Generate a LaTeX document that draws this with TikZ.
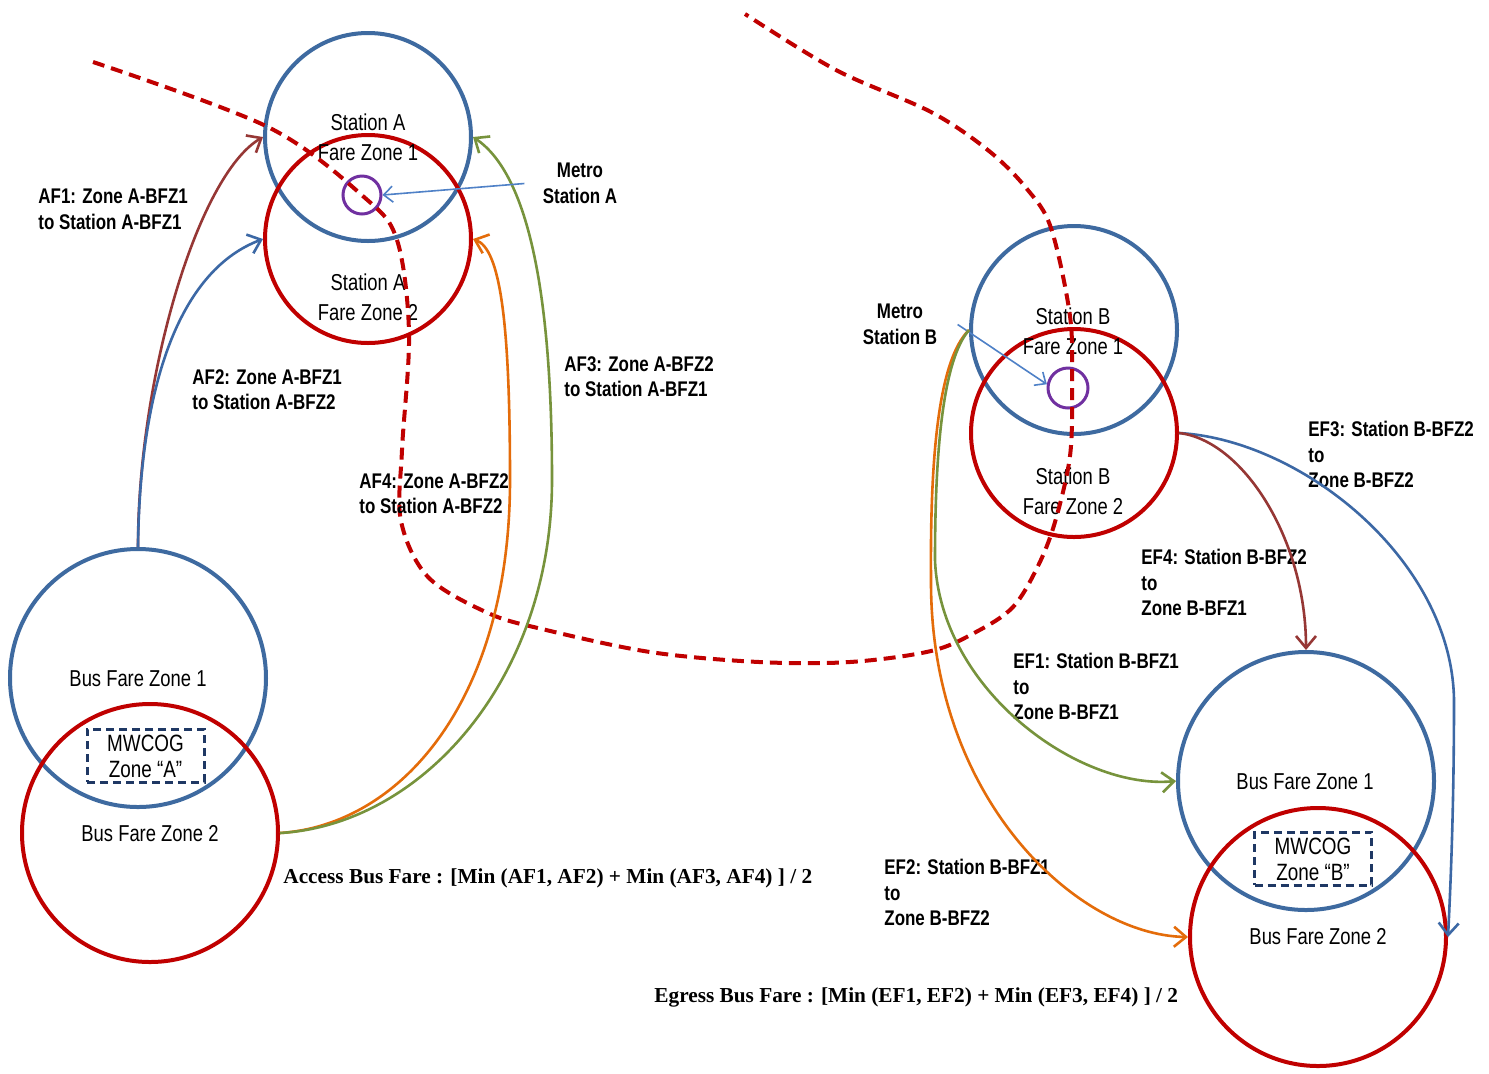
\documentclass[tikz,border=0pt]{standalone}
\usepackage{fontspec}
\setmainfont{Liberation Serif}
\newfontfamily\nar[FakeStretch=0.8]{Liberation Sans}
\usetikzlibrary{shapes.geometric,arrows.meta}
\definecolor{zblue}{RGB}{62,106,160}
\definecolor{zred}{RGB}{192,0,0}
\definecolor{zpurple}{RGB}{112,48,160}
\definecolor{zbrown}{RGB}{150,55,53}
\definecolor{zgreen}{RGB}{119,147,60}
\definecolor{zorange}{RGB}{228,108,10}
\definecolor{aublue}{RGB}{60,104,165}
\definecolor{ltblue}{RGB}{79,129,199}
\definecolor{navy}{RGB}{31,56,100}
\tikzset{
  zone/.style={ellipse, line width=2pt, inner sep=0pt},
  stz/.style={zone, minimum width=103pt, minimum height=104pt},
  bz/.style={zone, minimum width=128pt, minimum height=129pt},
  pcirc/.style={circle, draw=zpurple, line width=1.5pt, inner sep=0pt},
  ztext/.style={font=\nar\fontsize{11.5}{15}\selectfont, align=center, inner sep=0pt},
  lab/.style={font=\nar\bfseries\fontsize{10.6}{12.7}\selectfont, align=left, inner sep=0pt, anchor=north west},
  mlab/.style={font=\nar\bfseries\fontsize{10.6}{12.7}\selectfont, align=center, inner sep=0pt, anchor=north},
  formula/.style={font=\bfseries\fontsize{10.65}{13}\selectfont, inner sep=0pt, anchor=west},
  arr/.style={-{Straight Barb[length=6pt,width=10pt]}, line width=1.3pt},
  thinarr/.style={-{Straight Barb[length=4.5pt,width=8pt]}, line width=0.8pt, draw=ltblue},
  mbox/.style={draw=navy, dashed, dash pattern=on 4pt off 2.5pt, line width=1.5pt, minimum width=58.5pt, minimum height=26.5pt, inner sep=0pt},
  metro/.style={draw=zred, line width=2pt, dash pattern=on 6pt off 3.5pt}
}
\begin{document}
\begin{tikzpicture}[x=0.5pt,y=-0.5pt]
\useasboundingbox[fill=white] (0,0) rectangle (1489,1073);

% Station A
\node[stz, draw=zblue] (sa1) at (368,137) {};
\node[stz, draw=zred] (sa2) at (368,239) {};
\node[pcirc, minimum size=19pt] (pa) at (362,195) {};
\node[ztext] (sa1t) at (368,137) {Station A\\Fare Zone 1};
\node[ztext] (sa2t) at (368,297) {Station A\\Fare Zone 2};

% Station B
\node[stz, draw=zblue] (sb1) at (1074,330) {};
\node[stz, draw=zred] (sb2) at (1074,433) {};
\node[pcirc, minimum size=20pt] (pb) at (1068,388) {};
\node[ztext] (sb1t) at (1073,331) {Station B\\Fare Zone 1};
\node[ztext] (sb2t) at (1073,491) {Station B\\Fare Zone 2};

% Bus zones A
\node[bz, draw=zblue] (bza1) at (138,678) {};
\node[bz, draw=zred] (bza2) at (150,833) {};
\node[ztext] (bza1t) at (138,679) {Bus Fare Zone 1};
\node[ztext] (bza2t) at (150,834) {Bus Fare Zone 2};
\node[mbox] (mwa) at (145.5,755.5) {};
\node[ztext, font=\nar\fontsize{11.8}{13}\selectfont] (mwat) at (145.5,756) {MWCOG\\Zone “A”};

% Bus zones B
\node[bz, draw=zblue] (bzb1) at (1306,781) {};
\node[bz, draw=zred] (bzb2) at (1318,937) {};
\node[ztext] (bzb1t) at (1305,782) {Bus Fare Zone 1};
\node[ztext] (bzb2t) at (1318,937) {Bus Fare Zone 2};
\node[mbox] (mwb) at (1313,858.5) {};
\node[ztext, font=\nar\fontsize{11.8}{13}\selectfont] (mwbt) at (1313,859) {MWCOG\\Zone “B”};

% Metro line
\draw[metro] plot[smooth, tension=0.55] coordinates {
 (93,62) (268,127) (364,197) (397,240) (409,333) (402,450) (401,521) (428,577)
 (488,613) (542,629) (650,652) (759,662) (850,662) (931,651) (976,632) (1013,607)
 (1038,566) (1055,522) (1070,456) (1072,386) (1070,316) (1051,228) (1027,189)
 (989,151) (931,112) (836,70) (745,14)};

% Labels
\node[lab] (af1) at (38,189) {AF1: Zone A-BFZ1\\to Station A-BFZ1};
\node[lab] (af2) at (192,369) {AF2: Zone A-BFZ1\\to Station A-BFZ2};
\node[lab] (af3) at (564,356) {AF3: Zone A-BFZ2\\to Station A-BFZ1};
\node[lab] (af4) at (359,473) {AF4: Zone A-BFZ2\\to Station A-BFZ2};
\node[mlab] (metroA) at (580,163) {Metro\\Station A};
\node[mlab] (metroB) at (900,304) {Metro\\Station B};
\node[lab] (ef3) at (1308,421) {EF3: Station B-BFZ2\\to\\Zone B-BFZ2};
\node[lab] (ef4) at (1141,549) {EF4: Station B-BFZ2\\to\\Zone B-BFZ1};
\node[lab] (ef1) at (1013,653) {EF1: Station B-BFZ1\\to\\Zone B-BFZ1};
\node[lab] (ef2) at (884,859) {EF2: Station B-BFZ1\\to\\Zone B-BFZ2};
\node[formula] (acc) at (283,878) {Access Bus Fare : [Min (AF1, AF2) + Min (AF3, AF4) ] / 2};
\node[formula] (egr) at (654,997) {Egress Bus Fare : [Min (EF1, EF2) + Min (EF3, EF4) ] / 2};

% Access connectors
\draw[arr, draw=zbrown] (bza1.north) .. controls +(0,-170) and +(-65,38) .. (sa1.west);
\draw[arr, draw=aublue] (bza1.north) .. controls +(2,-170) and +(-80,30) .. (sa2.west);
\draw[arr, draw=zorange] (bza2.east) .. controls +(121,-8) and +(0,220) .. (510,480)
   .. controls +(0,-160) and +(27,10) .. (sa2.east);
\draw[arr, draw=zgreen] (bza2.east) .. controls +(141,-8) and +(0,200) .. (552,480)
   .. controls +(0,-180) and +(57,38) .. (sa1.east);

% Metro station pointers
\draw[thinarr] ([xshift=-9pt]metroA.west) -- (pa.east);
\draw[thinarr] ([xshift=10pt]metroB.east) -- (pb.170);

% Egress connectors
\draw[arr, draw=zorange] (sb1.west) .. controls +(-31,30) and +(-1,-120) .. (931,580)
   .. controls +(-1,220) and +(-110,-2) .. (bzb2.west);
\draw[arr, draw=zgreen] (sb1.west) .. controls +(-26,30) and +(0,-110) .. (935,560)
   .. controls +(5,130) and +(-97,9) .. (bzb1.west);
\draw[arr, draw=aublue] (sb2.east) .. controls +(123,7) and +(-2,-140) .. (1454,700)
   .. controls +(0,100) and +(3,-60) .. (bzb2.east);
\draw[arr, draw=zbrown] (sb2.east) .. controls +(63,7) and +(0,-112) .. (bzb1.north);
\end{tikzpicture}
\end{document}
